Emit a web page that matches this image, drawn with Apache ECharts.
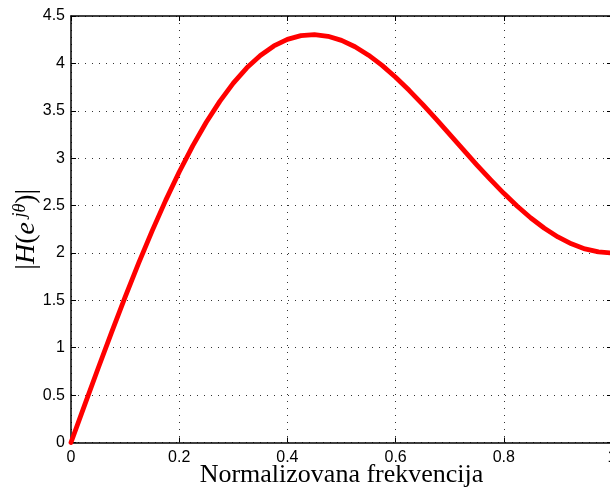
<!DOCTYPE html>
<html>
<head>
<meta charset="utf-8">
<script src="https://cdn.jsdelivr.net/npm/echarts@6/dist/echarts.min.js"></script>
<style>
html,body{margin:0;padding:0;background:#fff;}
#chart{width:610px;height:489px;}
</style>
</head>
<body>
<div id="chart"></div>
<script>
// Normalized frequency (x) and magnitude |H(e^{jθ})| (y)
var freq = [0,0.025,0.05,0.075,0.1,0.125,0.15,0.175,0.2,0.225,0.25,0.275,0.3,0.325,0.35,0.375,0.4,0.425,0.45,0.475,0.5,0.525,0.55,0.575,0.6,0.625,0.65,0.675,0.7,0.725,0.75,0.775,0.8,0.825,0.85,0.875,0.9,0.925,0.95,0.975,1];
var magnitude = [0,0.3921,0.7807,1.1624,1.5337,1.8915,2.2327,2.5544,2.8541,3.1295,3.3785,3.5996,3.7913,3.9530,4.0838,4.1839,4.2533,4.2927,4.3031,4.2858,4.2426,4.1755,4.0866,3.9786,3.8541,3.7161,3.5675,3.4115,3.2511,3.0897,2.9302,2.7755,2.6287,2.4922,2.3687,2.2602,2.1687,2.0959,2.0429,2.0108,2.0000];
var xTitle = 'Normalizovana frekvencija';

var chart = echarts.init(document.getElementById('chart'), null, {renderer:'canvas'});
var pts = freq.map(function(f,i){ return [f, magnitude[i]]; });

var gridLine = {show:true, lineStyle:{color:'#333', width:1, type:[1,6]}};
var axLine = {show:true, onZero:false, lineStyle:{color:'#000', width:1.5}};
var tick = {show:true, inside:true, length:5, lineStyle:{color:'#000', width:1}};
var lbl = {fontFamily:'Liberation Sans', fontSize:16, color:'#000'};

chart.setOption({
  backgroundColor:'#fff',
  animation:false,
  grid:{left:71, top:16, width:541, height:426.5, containLabel:false, outerBoundsMode:'none'},
  xAxis:[{
    type:'value', min:0, max:1, interval:0.2,
    axisLine:axLine, axisTick:tick, splitLine:gridLine,
    axisLabel:Object.assign({margin:7}, lbl),
    name:xTitle, nameLocation:'middle', nameGap:20, nameMoveOverlap:false,
    nameTextStyle:{fontFamily:'Liberation Serif', fontSize:26, color:'#000'}
  },{
    type:'value', min:0, max:1, interval:0.2, position:'top',
    axisLine:axLine, axisTick:tick, splitLine:{show:false}, axisLabel:{show:false}
  }],
  yAxis:[{
    type:'value', min:0, max:4.5, interval:0.5,
    axisLine:axLine, axisTick:tick, splitLine:gridLine,
    axisLabel:Object.assign({margin:6}, lbl),
    name:'|{i|H}({i|e}{s| jθ})|', nameLocation:'middle', nameGap:28, nameRotate:90, nameMoveOverlap:false,
    nameTextStyle:{fontFamily:'Liberation Serif', fontSize:28, color:'#000', lineHeight:32,
      rich:{
        i:{fontFamily:'Liberation Serif', fontStyle:'italic', fontSize:28, color:'#000'},
        s:{fontFamily:'Liberation Serif', fontStyle:'italic', fontSize:18, color:'#000', verticalAlign:'top'}
      }}
  },{
    type:'value', min:0, max:4.5, interval:0.5, position:'right',
    axisLine:axLine, axisTick:tick, splitLine:{show:false}, axisLabel:{show:false}
  }],
  series:[{
    type:'line', data:pts, xAxisIndex:0, yAxisIndex:0,
    showSymbol:false, smooth:false,
    lineStyle:{color:'#ff0000', width:4.8, cap:'round', join:'round'},
    clip:false
  }]
});
</script>
</body>
</html>
